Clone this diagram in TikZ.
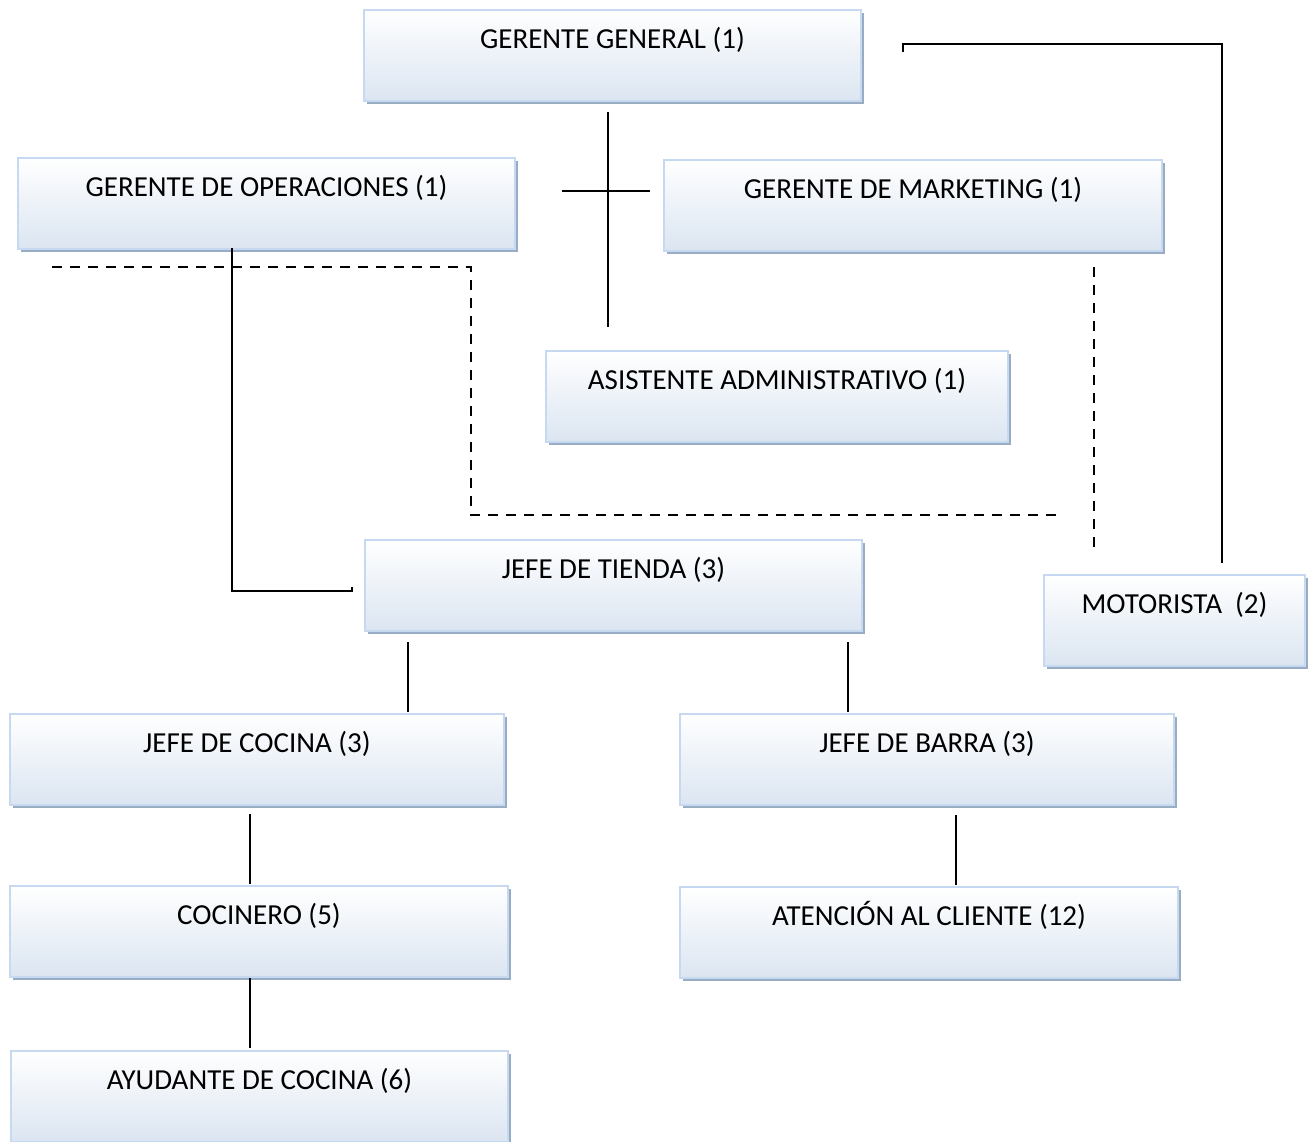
\documentclass[tikz,border=0pt]{standalone}
\usepackage{fontspec}
\setmainfont{Carlito}
\definecolor{borde}{HTML}{C6D9F1}
\definecolor{fondo}{HTML}{DBE5F1}
\definecolor{sombra}{HTML}{98ACC4}

\begin{document}
\begin{tikzpicture}[x=1pt,y=-1pt,
  puesto/.style = {rectangle, anchor=north west, draw=borde, line width=2pt,
    top color=white, bottom color=fondo, minimum width=#1, minimum height=91pt,
    inner sep=0pt, text height=38pt, text depth=53pt,
    font=\fontsize{29}{34}\selectfont,
    preaction={fill=sombra, transform canvas={shift={(3pt,-3pt)}}}},
  puesto/.default=497pt,
  linea/.style = {line width=2pt},
  guion/.style = {line width=2.5pt, dash pattern=on 10pt off 8pt}]
\useasboundingbox (0,0) rectangle (1316,1141);
\node[puesto] (gg) at (363,9) {GERENTE GENERAL (1)};
\node[puesto] (go) at (17,157) {GERENTE DE OPERACIONES (1)};
\node[puesto=498pt] (gm) at (663,159) {GERENTE DE MARKETING (1)};
\node[puesto=462pt] (aa) at (545,350) {ASISTENTE ADMINISTRATIVO (1)};
\node[puesto] (jt) at (364,539) {JEFE DE TIENDA (3)};
\node[puesto=261pt] (mot) at (1043,574) {MOTORISTA~~(2)};
\node[puesto=494pt] (jc) at (9,713) {JEFE DE COCINA (3)};
\node[puesto=494pt] (jb) at (679,713) {JEFE DE BARRA (3)};
\node[puesto=498pt] (coc) at (9,885) {COCINERO (5)};
\node[puesto=498pt] (atc) at (679,886) {ATENCIÓN AL CLIENTE (12)};
\node[puesto] (ayu) at (10,1050) {AYUDANTE DE COCINA (6)};
% puntos de los conectores
\coordinate (gg1) at (608,112);
\coordinate (aa1) at (608,327);
\coordinate (go1) at (562,191);
\coordinate (gm1) at (650,191);
\coordinate (gg2) at (903,52);
\coordinate (mot1) at (1222,563);
\coordinate (go2) at (232,248);
\coordinate (jt1) at (352,587);
\coordinate (jt2) at (408,642);
\coordinate (jc1) at (408,712);
\coordinate (jt3) at (848,642);
\coordinate (jb1) at (848,712);
\coordinate (jc2) at (250,814);
\coordinate (coc1) at (250,884);
\coordinate (jb2) at (956,815);
\coordinate (atc1) at (956,885);
\coordinate (coc2) at (250,978);
\coordinate (ayu1) at (250,1048);
\coordinate (go3) at (52,267);
\coordinate (gm2) at (1058,515);
\coordinate (gm3) at (1094,267);
\coordinate (mot2) at (1094,553);
% lineas
\draw[linea] (gg1) -- (aa1);
\draw[linea] (go1) -- (gm1);
\draw[linea] (gg2) -- ++(0,-8) -| (mot1);
\draw[linea] (go2) |- (352,591) -- (jt1);
\draw[linea] (jt2) -- (jc1);
\draw[linea] (jt3) -- (jb1);
\draw[linea] (jc2) -- (coc1);
\draw[linea] (jb2) -- (atc1);
\draw[linea] (coc2) -- (ayu1);
\draw[guion] (go3) -- (471,267) |- (gm2);
\draw[guion] (gm3) -- (mot2);
\end{tikzpicture}
\end{document}
